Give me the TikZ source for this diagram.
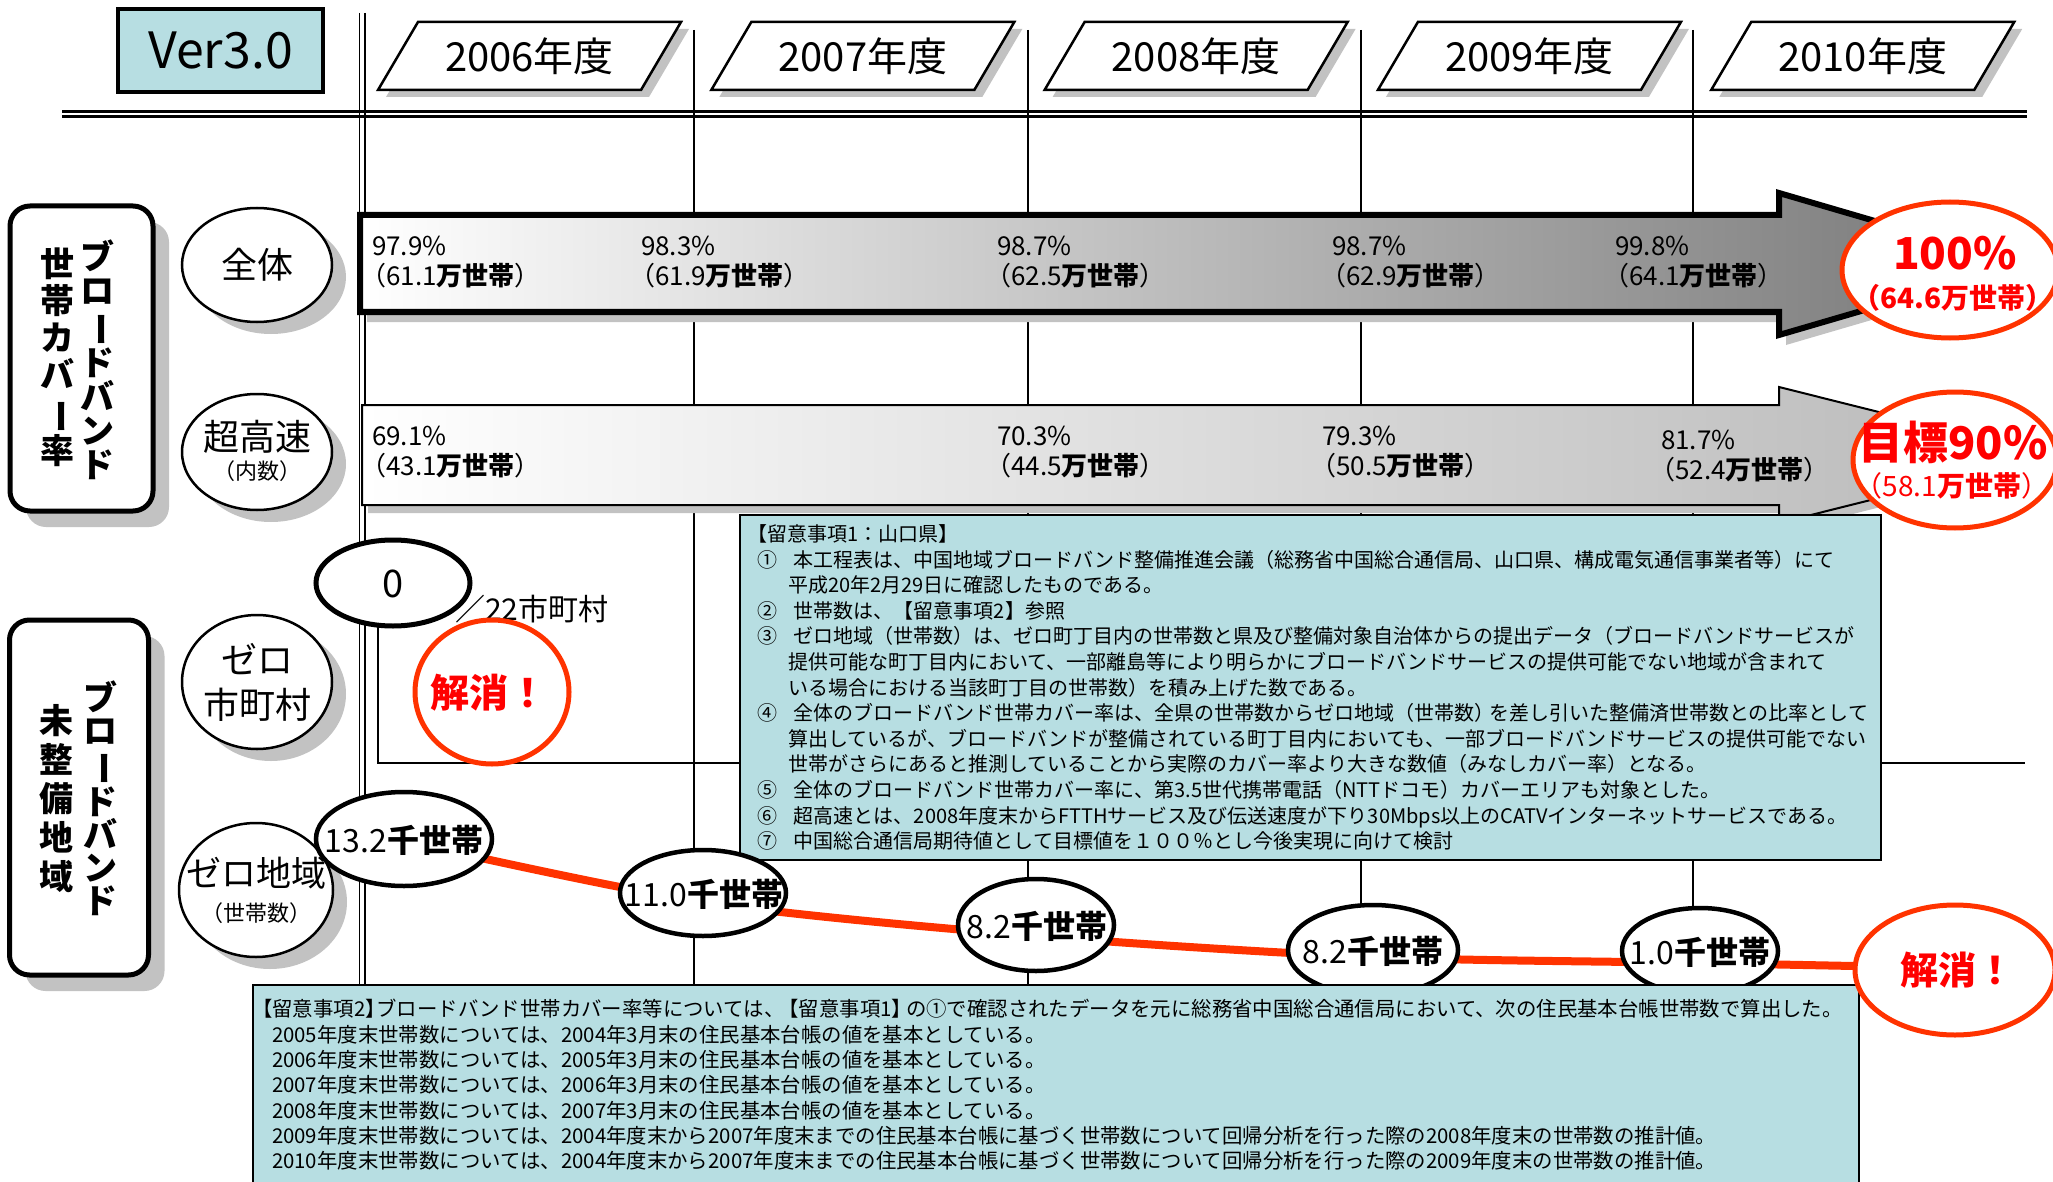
\documentclass[tikz,border=0pt]{standalone}
\usepackage{fontspec}
\setmainfont{Noto Sans CJK JP}
\usepackage{graphicx}
\usetikzlibrary{shapes.geometric,shadows,calc}
\definecolor{notecyan}{HTML}{B7DEE2}
\definecolor{hotred}{HTML}{FF3300}
\definecolor{pured}{HTML}{FF0000}
\definecolor{shgray}{HTML}{C2C2C2}
\definecolor{arrowdark}{HTML}{767676}
\definecolor{arrowlight}{HTML}{B8B8B8}
\newcommand\myfs[2]{\fontsize{#1}{#2}\selectfont}
\newcommand\vbar{\rotatebox[origin=c]{-90}{ー}}
\newcommand\numbox[1]{\makebox[37pt][l]{#1}}
\newcommand\contind{\hspace*{31pt}}
\begin{document}
\begin{tikzpicture}[x=1pt,y=-1pt,
  every node/.style={inner sep=0pt, outer sep=0pt},
  gridline/.style={line width=1.6pt},
  yearshape/.style={draw, line width=2.5pt, fill=white},
  sidebox/.style={draw, line width=5pt, rounded corners=20pt, fill=white,
    drop shadow={shadow xshift=16pt, shadow yshift=-16pt, fill=shgray, opacity=1}},
  sidetext/.style={align=center},
  leftell/.style={ellipse, draw, line width=2.5pt, fill=white,
    drop shadow={shadow xshift=14pt, shadow yshift=-12pt, fill=shgray, opacity=1}},
  cntell/.style={ellipse, draw, line width=4.5pt, fill=white},
  redell/.style={ellipse, draw=hotred, line width=5pt, fill=white},
  arrowtxt/.style={anchor=west, align=left, font=\myfs{26}{30}},
  cnttxt/.style={font=\myfs{32}{32}},
  notebox/.style={draw, line width=2pt, fill=notecyan, anchor=north west},
  notetxt/.style={anchor=west, align=left},
]
\useasboundingbox (0,0) rectangle (2053,1182);

% ---------------- grid ----------------
\draw[gridline] (359.5,13) -- (359.5,1182);
\draw[gridline] (365,13) -- (365,1182);
\foreach \gx in {694,1028,1361,1693}{
  \draw[gridline] (\gx,30) -- (\gx,1182);
}
\draw[line width=2.6pt] (62,111.5) -- (2027,111.5);
\draw[line width=2.2pt] (62,116.5) -- (2027,116.5);

% ---------------- version box ----------------
\node[draw, line width=3.5pt, fill=notecyan, minimum width=205, minimum height=83,
      font=\myfs{50}{50}] (ver) at (220.5,50.5) {Ver3.0};

% ---------------- year boxes ----------------
\foreach \i/\yr in {0/2006,1/2007,2/2008,3/2009,4/2010}{
  \pgfmathsetmacro\dx{\i*333.3}
  \begin{scope}[xshift=\dx pt]
    \fill[shgray] (426,29) -- (689,29) -- (649,97) -- (386,97) -- cycle;
    \draw[yearshape] (418,22) -- (681,22) -- (641,90) -- (378,90) -- cycle;
    \node[font=\myfs{40}{40}] (yr\yr) at (529.5,56) {\yr 年度};
  \end{scope}
}

% ---------------- side label boxes ----------------
\node[sidebox, minimum width=143, minimum height=305] (sideA) at (81.5,358.5) {};
\node[sidetext, font=\myfs{34}{34}\bfseries] (sideAa) at (97,360) {ブ\\ロ\\\vbar\\ド\\バ\\ン\\ド};
\node[sidetext, font=\myfs{34}{37}\bfseries] (sideAb) at (57,357) {世\\帯\\カ\\バ\\\vbar\\率};

\node[sidebox, minimum width=139, minimum height=355] (sideB) at (79,797.5) {};
\node[sidetext, font=\myfs{34}{33}\bfseries] (sideBa) at (100,798) {ブ\\ロ\\\vbar\\ド\\バ\\ン\\ド};
\node[sidetext, font=\myfs{34}{39}\bfseries] (sideBb) at (56,799) {未\\整\\備\\地\\域};

% ---------------- left category ellipses ----------------
\node[leftell, minimum width=150, minimum height=114] (zentai) at (257,265) {};
\node[font=\myfs{36}{36}] (zentaitxt) at (257,265) {全体};

\node[leftell, minimum width=150, minimum height=116] (choko) at (257,452) {};
\node[font=\myfs{36}{36}] (chokotxt) at (257,437) {超高速};
\node[font=\myfs{22}{22}] (chokosub) at (257,471) {（内数）};

\node[leftell, minimum width=150, minimum height=134] (zeroshi) at (257,682) {};
\node[align=center, font=\myfs{36}{45}] (zeroshitxt) at (257,682) {ゼロ\\市町村};

\node[leftell, minimum width=154, minimum height=134] (zerochi) at (256,890) {};
\node[font=\myfs{35}{35}] (zerochitxt) at (256,873) {ゼロ地域};
\node[font=\myfs{22}{22}] (zerochisub) at (256,913) {（世帯数）};

% ---------------- coverage arrows ----------------
\path[draw, line width=6pt, line join=miter, left color=white, right color=arrowdark,
      drop shadow={shadow xshift=7pt, shadow yshift=-10pt, fill=shgray, opacity=1}]
  (360,215) -- (1779,215) -- (1779,193) -- (2022,264) -- (1779,335) -- (1779,312) -- (360,312) -- cycle;
\path[draw, line width=2pt, line join=miter, left color=white, right color=arrowlight,
      drop shadow={shadow xshift=6pt, shadow yshift=-8pt, fill=shgray, opacity=1}]
  (362,405) -- (1779,405) -- (1779,387) -- (2050,455) -- (1779,523) -- (1779,505) -- (362,505) -- cycle;

\foreach \nm/\xx/\pc/\hh in {ta/372/97.9/61.1, tb/641/98.3/61.9, tc/997/98.7/62.5, td/1332/98.7/62.9, te/1615/99.8/64.1}{
  \node[arrowtxt] (\nm) at (\xx,262) {\pc\%\\\hspace*{-0.45em}（\hh\textbf{万世帯}）};
}
\foreach \nm/\xx/\yy/\pc/\hh in {ba/372/452/69.1/43.1, bb/997/452/70.3/44.5, bc/1322/452/79.3/50.5, bd/1661/456/81.7/52.4}{
  \node[arrowtxt] (\nm) at (\xx,\yy) {\pc\%\\\hspace*{-0.45em}（\hh\textbf{万世帯}）};
}

% ---------------- goal ellipses ----------------
\node[redell, minimum width=216, minimum height=136] (goalall) at (1950,270) {};
\node[font=\myfs{44}{44}\bfseries, text=pured] (goalallpct) at (1955,253) {100\%};
\node[font=\myfs{28}{28}\bfseries, text=pured] (goalallhh) at (1953,298) {（64.6万世帯）};

\node[redell, minimum width=204, minimum height=136] (goalfast) at (1955,460) {};
\node[font=\myfs{45}{45}\bfseries, text=pured] (goalfastpct) at (1953,442) {目標90\%};
\node[font=\myfs{28}{28}, text=pured] (goalfasthh) at (1952,486) {（58.1\textbf{万世帯}）};

% ---------------- zero municipalities ----------------
\node[cntell, line width=5pt, minimum width=154, minimum height=86] (zero) at (393,583) {};
\node[font=\myfs{38}{38}] (zerotxt) at (393,584) {0};
\coordinate (lcorner) at (378,763);
\coordinate (lend) at (2025,763);
\draw[line width=2pt] (lcorner |- zero.south) -- (lcorner) -- (lend);
\node[anchor=west, font=\myfs{30}{30}] (count22) at (455,609) {／22市町村};
\node[redell, minimum width=154, minimum height=144] (kaisho1) at (492,692) {};
\node[font=\myfs{39}{39}\bfseries, text=pured] (kaisho1txt) at (489,693) {解消！};

% ---------------- note 1 ----------------
\node[notebox, minimum width=1141, minimum height=345] (note1) at (740,515) {};
\node[notetxt, font=\myfs{20}{25.6}] (note1txt) at (757,687.5) {%
\hspace*{-10pt}【留意事項1：山口県】\\
\numbox{①}本工程表は、中国地域ブロードバンド整備推進会議（総務省中国総合通信局、山口県、構成電気通信事業者等）にて\\
\contind 平成20年2月29日に確認したものである。\\
\numbox{②}世帯数は、【留意事項2】参照\\
\numbox{③}ゼロ地域（世帯数）は、ゼロ町丁目内の世帯数と県及び整備対象自治体からの提出データ（ブロードバンドサービスが\\
\contind 提供可能な町丁目内において、一部離島等により明らかにブロードバンドサービスの提供可能でない地域が含まれて\\
\contind いる場合における当該町丁目の世帯数）を積み上げた数である。\\
\numbox{④}全体のブロードバンド世帯カバー率は、全県の世帯数からゼロ地域（世帯数）\hspace{-0.3em}を差し引いた整備済世帯数との比率として\\
\contind 算出しているが、ブロードバンドが整備されている町丁目内においても、一部ブロードバンドサービスの提供可能でない\\
\contind 世帯がさらにあると推測していることから実際のカバー率より大きな数値（みなしカバー率）となる。\\
\numbox{⑤}全体のブロードバンド世帯カバー率に、第3.5世代携帯電話（NTTドコモ）カバーエリアも対象とした。\\
\numbox{⑥}超高速とは、2008年度末からFTTHサービス及び伝送速度が下り30Mbps以上のCATVインターネットサービスである。\\
\numbox{⑦}中国総合通信局期待値として目標値を１００％とし今後実現に向けて検討};

% ---------------- zero-area households ----------------
\coordinate (p1) at (404,841);
\coordinate (p2) at (703,902);
\coordinate (p3) at (1036,936);
\coordinate (p4) at (1373,957);
\coordinate (p5) at (1700,963);
\coordinate (p6) at (1955,968);
\draw[hotred, line width=8pt] plot[smooth] coordinates {(p1) (p2) (p3) (p4) (p5) (p6)};

\node[cntell, minimum width=176, minimum height=94] (k1) at (404,839) {};
\node[cnttxt] (k1t) at (404,840) {13.2\textbf{千世帯}};
\node[cntell, minimum width=166, minimum height=86] (k2) at (703,893) {};
\node[cnttxt] (k2t) at (704,894) {11.0\textbf{千世帯}};
\node[cntell, minimum width=156, minimum height=92] (k3) at (1036,925) {};
\node[cnttxt] (k3t) at (1037,926) {8.2\textbf{千世帯}};
\node[cntell, minimum width=170, minimum height=90] (k4) at (1373,950) {};
\node[cnttxt] (k4t) at (1373,951) {8.2\textbf{千世帯}};
\node[cntell, minimum width=156, minimum height=86] (k5) at (1700,951) {};
\node[cnttxt] (k5t) at (1700,952) {1.0\textbf{千世帯}};

% ---------------- note 2 ----------------
\node[notebox, minimum width=1606, minimum height=215] (note2) at (253,985) {};
\node[notetxt, font=\myfs{20.4}{25.3}] (note2txt) at (272,1085) {%
\hspace*{-20pt}【留意事項2】\hspace{-0.45em}ブロードバンド世帯カバー率等については、\hspace{-0.3em}【留意事項1】\hspace{-0.3em}の①で確認されたデータを元に総務省中国総合通信局において、次の住民基本台帳世帯数で算出した。\\
2005年度末世帯数については、2004年3月末の住民基本台帳の値を基本としている。\\
2006年度末世帯数については、2005年3月末の住民基本台帳の値を基本としている。\\
2007年度末世帯数については、2006年3月末の住民基本台帳の値を基本としている。\\
2008年度末世帯数については、2007年3月末の住民基本台帳の値を基本としている。\\
2009年度末世帯数については、2004年度末から2007年度末までの住民基本台帳に基づく世帯数について回帰分析を行った際の2008年度末の世帯数の推計値。\\
2010年度末世帯数については、2004年度末から2007年度末までの住民基本台帳に基づく世帯数について回帰分析を行った際の2009年度末の世帯数の推計値。};

\node[redell, minimum width=200, minimum height=130] (kaisho2) at (1955,970) {};
\node[font=\myfs{38}{38}\bfseries, text=pured] (kaisho2txt) at (1957,970) {解消！};

\end{tikzpicture}
\end{document}
